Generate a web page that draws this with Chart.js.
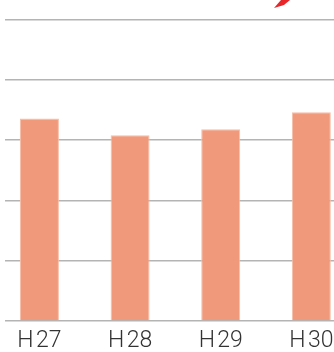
<!DOCTYPE html>
<html>
<head>
<meta charset="utf-8">
<script src="https://cdn.jsdelivr.net/npm/chart.js@4/dist/chart.umd.min.js"></script>
<style>
  html, body { margin: 0; padding: 0; background: #fff; }
  #wrap { width: 334px; height: 352px; position: relative; }
</style>
</head>
<body>
<div id="wrap"><canvas id="myChart"></canvas></div>
<script>
// fiscal years (Heisei)
const years = ["H27", "H28", "H29", "H30"];
// values, grid step = 1
const amounts = [3.36, 3.08, 3.18, 3.46];
const yTicks = [0, 1, 2, 3, 4, 5];

// little red arrow head poking in from the top right corner
const arrowHead = {
    id: "arrowHead",
    afterDraw(chart) {
        const c = chart.ctx;
        const r = chart.chartArea.right;
        c.save();
        c.fillStyle = "#e8262a";
        c.beginPath();
        c.moveTo(r - 60, 8);
        c.lineTo(r - 53, 0);
        c.lineTo(r - 44, 0);
        c.lineTo(r - 50, 5);
        c.closePath();
        c.fill();
        c.restore();
    }
};

const ctx = document.getElementById("myChart");

new Chart(ctx, {
    type: "bar",
    data: {
        datasets: [{
            data: amounts.map((v, i) => ({ x: i, y: v })),
            backgroundColor: "rgb(240,154,123)",
            borderColor: "rgb(246,190,168)",
            borderWidth: 1,
            barPercentage: 0.43,
            categoryPercentage: 1
        }]
    },
    options: {
        responsive: true,
        maintainAspectRatio: false,
        animation: false,
        layout: { padding: { left: 5, top: 19.5, right: 0, bottom: 0 } },
        plugins: { legend: { display: false }, tooltip: { enabled: false } },
        scales: {
            x: {
                type: "linear",
                min: -0.38,
                max: 3.25,
                offset: false,
                grid: { display: false, drawTicks: false },
                border: { display: false },
                afterBuildTicks: (axis) => {
                    axis.ticks = years.map((y, i) => ({ value: i }));
                },
                afterFit: (axis) => {
                    axis.height = 31;
                    axis.paddingLeft = 0;
                    axis.paddingRight = 0;
                },
                ticks: {
                    autoSkip: false,
                    maxRotation: 0,
                    padding: 6,
                    color: "#333",
                    font: { family: "Roboto", size: 23, weight: "300" },
                    callback: (v) => years[v].replace("H", "H\u200A")
                }
            },
            y: {
                min: yTicks[0],
                max: yTicks[yTicks.length - 1],
                afterBuildTicks: (axis) => {
                    axis.ticks = yTicks.map(v => ({ value: v }));
                },
                afterFit: (axis) => { axis.width = 0; },
                ticks: { display: false },
                grid: { color: "#b4b4b4", lineWidth: 1.5, drawTicks: false },
                border: { display: false }
            }
        }
    },
    plugins: [arrowHead]
});
</script>
</body>
</html>
